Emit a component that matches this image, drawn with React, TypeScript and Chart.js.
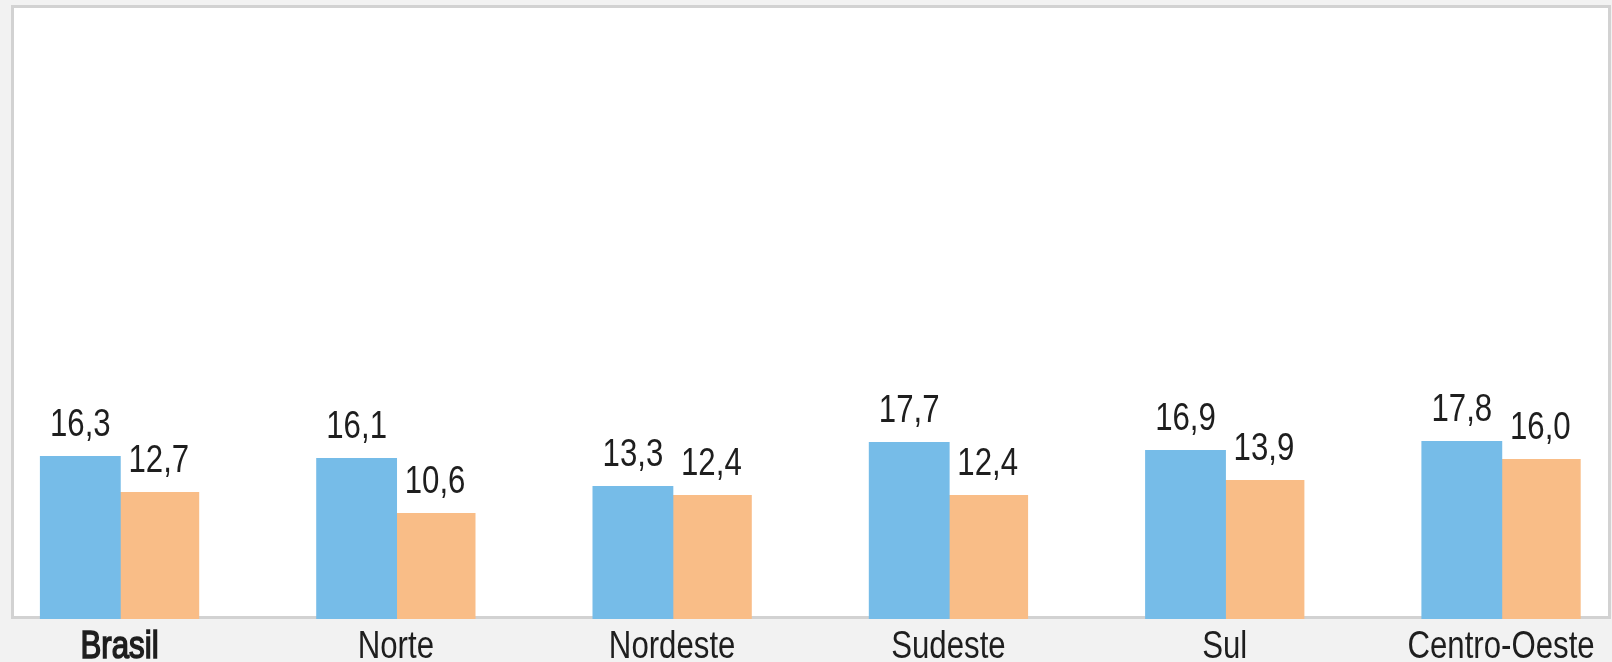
import React, { useEffect, useRef } from "react";
import { Chart, registerables } from "chart.js";

Chart.register(...registerables);

const categories = ["Brasil", "Norte", "Nordeste", "Sudeste", "Sul", "Centro-Oeste"];
const seriesA = [16.3, 16.1, 13.3, 17.7, 16.9, 17.8];
const seriesB = [12.7, 10.6, 12.4, 12.4, 13.9, 16.0];
const seriesNames = ["Série 1", "Série 2"];

const BLUE = "#76BCE8";
const ORANGE = "#F9BD87";
const TEXT = "#1e1e1e";
const FONT_FAMILY = "'Liberation Sans', Arial, sans-serif";
const FONT_SIZE = 39;
const NARROW = 0.8;

// the plot's category band is wider than the visible frame (cropped original)
const CANVAS_OFFSET = 30;
const CANVAS_W = 1680;
const CANVAS_H = 662;

function fmt(v: number) {
  return v.toFixed(1).replace(".", ",");
}

function drawNarrow(ctx: CanvasRenderingContext2D, text: string, x: number, y: number, heavy: boolean) {
  ctx.save();
  ctx.font = `${FONT_SIZE}px ${FONT_FAMILY}`;
  ctx.fillStyle = TEXT;
  ctx.strokeStyle = TEXT;
  ctx.textAlign = "center";
  ctx.textBaseline = "alphabetic";
  ctx.translate(x, y);
  ctx.scale(NARROW, 1);
  ctx.fillText(text, 0, 0);
  if (heavy) {
    ctx.lineWidth = 1.6;
    ctx.strokeText(text, 0, 0);
  }
  ctx.restore();
}

const framePlugin = {
  id: "frame",
  beforeDraw(chart: any) {
    const ctx = chart.ctx as CanvasRenderingContext2D;
    const o = CANVAS_OFFSET;
    ctx.save();
    ctx.fillStyle = "#f2f2f2";
    ctx.fillRect(0, 0, chart.width, chart.height);
    ctx.fillStyle = "#ffffff";
    ctx.fillRect(o + 11, 5, 1600, 614);
    ctx.strokeStyle = "#d2d2d2";
    ctx.lineWidth = 3;
    ctx.strokeRect(o + 12.5, 6.5, 1597, 611);
    ctx.restore();
  },
  afterDatasetsDraw(chart: any) {
    const ctx = chart.ctx as CanvasRenderingContext2D;
    const xScale = chart.scales.x;
    chart.data.datasets.forEach((ds: any, di: number) => {
      const meta = chart.getDatasetMeta(di);
      meta.data.forEach((bar: any, i: number) => {
        drawNarrow(ctx, fmt(ds.data[i]), bar.x, bar.y - 20, false);
      });
    });
    categories.forEach((c, i) => {
      drawNarrow(ctx, c, xScale.getPixelForValue(i), 658, i === 0);
    });
  },
};

export default function App() {
  const ref = useRef<HTMLCanvasElement | null>(null);
  useEffect(() => {
    document.body.style.margin = "0";
    const canvas = ref.current!;
    const chart = new Chart(canvas, {
      type: "bar",
      data: {
        labels: categories,
        datasets: [
          { label: seriesNames[0], data: seriesA, backgroundColor: BLUE, borderWidth: 0 },
          { label: seriesNames[1], data: seriesB, backgroundColor: ORANGE, borderWidth: 0 },
        ],
      },
      options: {
        animation: false,
        responsive: false,
        maintainAspectRatio: false,
        events: [],
        datasets: {
          bar: { categoryPercentage: 0.568, barPercentage: 1.03 },
        },
        layout: { padding: { left: 11.4, right: 10.8, top: 19, bottom: 43 } },
        plugins: { legend: { display: false }, tooltip: { enabled: false } },
        scales: {
          x: { display: false, offset: true },
          y: { display: false, min: 0, max: 60 },
        },
      },
      plugins: [framePlugin],
    });
    return () => chart.destroy();
  }, []);
  return (
    <div style={{ position: "relative", width: 1612, height: 662, overflow: "hidden", background: "#f2f2f2" }}>
      <canvas
        ref={ref}
        width={CANVAS_W}
        height={CANVAS_H}
        style={{ position: "absolute", left: -CANVAS_OFFSET, top: 0, display: "block", width: CANVAS_W, height: CANVAS_H }}
      />
    </div>
  );
}
